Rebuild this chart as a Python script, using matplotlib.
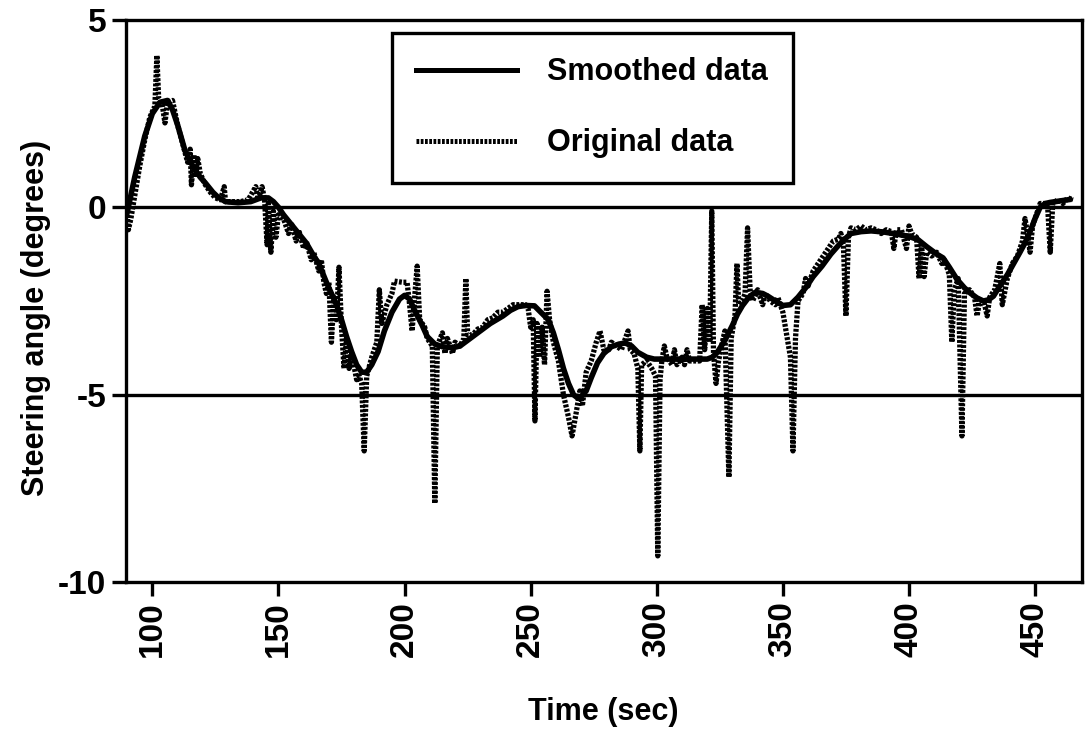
import matplotlib
matplotlib.use("Agg")
import matplotlib.pyplot as plt
from matplotlib.lines import Line2D

plt.rcParams['font.family'] = ['Liberation Sans', 'DejaVu Sans']
plt.rcParams['axes.unicode_minus'] = False

# original (raw) steering angle samples
orig_t = [90, 90.5, 91.5, 93, 95, 97, 99, 101, 101.8, 102.5, 104, 105, 106, 108, 110, 112, 114, 115,
          115.5, 116.5, 117, 118, 119, 121, 123, 125, 127, 128.5, 129, 132, 135, 138, 141, 142, 143.5,
          144.5, 145.5, 146, 147, 148, 149, 150, 152, 154, 155, 157, 158, 160, 161, 163, 164, 166, 167,
          168, 169, 170, 171, 172, 173, 174, 175, 176, 177, 178, 179, 181, 182, 183, 184, 185, 187, 189,
          190, 191, 193, 195, 196, 199, 201, 202, 203, 204, 205, 206, 208, 209, 210, 211, 212, 213, 215,
          216, 217, 219, 220, 222, 223.5, 224.3, 225, 227, 229, 231, 233, 235, 237, 239, 241, 243, 245,
          248, 249, 250, 251, 251.7, 252.5, 253.5, 254.5, 255.5, 256.5, 257.5, 259, 261, 263, 265, 266.4,
          268, 269.5, 270.5, 272, 274, 276, 277.5, 279, 281, 282, 284, 286, 288.6, 289.5, 291, 292.5,
          293.3, 294, 296, 298, 299.5, 300.4, 301.3, 302, 303, 304, 306, 307, 308, 310, 311, 312, 313,
          315, 317, 318, 319, 320, 321, 321.8, 322.5, 323.5, 324.5, 326, 327, 328.6, 329.5, 331, 331.8,
          332.5, 334, 335, 336, 337, 338, 340, 342, 343, 345, 347, 348, 350, 351, 352, 353, 354, 355,
          356, 358, 359, 360, 362, 364, 366, 368, 370, 372, 373, 374, 375, 376, 377, 379, 381, 383, 385,
          387, 389, 391, 393, 394, 395, 397, 399, 400, 401, 403, 404, 405, 406, 407, 409, 411, 413, 414,
          416, 417, 418, 419.5, 421, 422, 424, 426, 427, 428, 430, 431, 432, 434, 436, 437, 439, 441,
          443, 445, 446, 447, 448, 449, 451, 452, 454, 455, 456, 457, 459, 461, 463, 465]
orig_v = [-0.2, -0.6, -0.3, 0.3, 1.1, 1.8, 2.4, 2.7, 4.05, 2.9, 2.7, 2.25, 2.8, 2.85, 2.2, 1.7, 1.2, 1.55,
          0.6, 1.4, 0.8, 1.3, 0.9, 0.6, 0.4, 0.25, 0.2, 0.55, 0.15, 0.15, 0.15, 0.2, 0.55, 0.2, 0.55,
          0.2, -1.0, 0.1, -1.2, -0.1, -0.8, -0.2, -0.3, -0.7, -0.4, -0.9, -0.6, -1.1, -0.9, -1.4, -1.2, -1.7, -1.4,
          -2.0, -2.3, -2.0, -3.6, -2.4, -3.0, -1.6, -3.2, -4.3, -3.5, -4.3, -3.9, -4.6, -4.5, -4.7, -6.5, -4.5, -4.0, -3.6,
          -2.2, -3.1, -2.6, -2.3, -1.97, -2.0, -2.0, -2.6, -3.3, -2.4, -1.57, -3.0, -3.2, -3.5, -3.6, -3.7, -7.9, -3.7, -3.35,
          -3.9, -3.5, -3.9, -3.6, -3.7, -3.5, -1.9, -3.4, -3.4, -3.25, -3.2, -3.0, -2.95, -2.8, -2.8, -2.7, -2.6, -2.6,
          -2.6, -2.7, -3.2, -3.0, -5.7, -3.1, -4.0, -3.2, -4.2, -2.24, -3.0, -3.6, -4.1, -5.0, -5.6, -6.1,
          -5.5, -4.9, -5.3, -4.4, -4.1, -3.6, -3.3, -3.8, -3.8, -3.6, -3.7, -3.8, -3.3, -3.8, -3.9, -4.3,
          -6.5, -4.2, -4.1, -4.3, -4.5, -9.3, -4.6, -4.1, -3.7, -4.0, -4.2, -3.8, -4.2, -4.0, -4.2, -3.8, -4.1,
          -4.1, -4.1, -2.6, -3.8, -2.7, -3.6, -0.1, -3.9, -4.7, -4.1, -3.6, -3.3, -7.2, -3.5, -2.9, -1.5,
          -2.6, -2.5, -2.3, -0.55, -2.2, -2.5, -2.2, -2.6, -2.3, -2.5, -2.6, -2.4, -2.8, -3.2, -3.6, -4.0, -6.5, -3.5,
          -2.5, -2.3, -1.9, -2.1, -1.7, -1.5, -1.3, -1.1, -0.9, -0.85, -0.7, -1.0, -2.9, -0.8, -0.55, -0.6, -0.5, -0.6, -0.55,
          -0.6, -0.7, -0.6, -0.65, -1.1, -0.6, -0.6, -1.1, -0.5, -0.7, -0.8, -1.9, -1.0, -1.85, -1.2, -1.3, -1.2, -1.5, -1.4,
          -1.8, -3.6, -2.2, -1.9, -6.1, -2.3, -2.2, -2.4, -2.9, -2.5, -2.6, -2.9, -2.4, -2.2, -1.5, -2.6, -1.9, -1.5,
          -1.3, -0.9, -0.3, -0.7, -1.2, -0.5, -0.1, 0.1, 0.1, 0.0, -1.2, 0.1, 0.2, 0.1, 0.25, 0.2]

# smoothed curve
smooth_t = [90, 93, 97, 100, 103, 106, 108, 110, 113, 116, 119, 121, 124, 126, 129, 134, 139, 143, 146, 148,
            150, 152, 155, 158, 161, 164, 166, 169, 171, 173, 175, 177, 179, 181, 183, 185, 187, 189.5, 192,
            195, 198, 200, 202, 204, 207, 209, 212, 215, 219, 222, 225, 229, 234, 239, 242, 245, 248, 251.5,
            254, 257, 259, 261, 263, 265, 267, 268.5, 270, 272, 274, 276.5, 279, 282, 285, 287.5, 290, 292.5,
            296, 299, 303, 311, 320, 322, 324, 327, 330, 332, 334, 336.5, 339, 342, 344, 347, 350, 353, 356,
            359, 362, 365.5, 369, 372, 374.5, 377, 381, 385, 390, 395.5, 400, 403.5, 407, 411, 413.5, 416,
            419, 422, 424.5, 427, 429.5, 431.5, 433.5, 436, 439, 441.5, 444, 446, 448, 450, 452, 454, 456,
            460, 464]
smooth_v = [-0.15, 0.8, 1.9, 2.5, 2.8, 2.85, 2.6, 2.2, 1.5, 1.1, 0.8, 0.65, 0.4, 0.27, 0.15, 0.12, 0.15, 0.25,
            0.25, 0.15, 0.0, -0.2, -0.45, -0.7, -0.95, -1.3, -1.5, -2.0, -2.3, -2.6, -3.0, -3.45, -3.85, -4.2,
            -4.4, -4.4, -4.2, -3.85, -3.3, -2.8, -2.45, -2.35, -2.45, -2.75, -3.15, -3.45, -3.65, -3.72, -3.75,
            -3.7, -3.55, -3.35, -3.1, -2.9, -2.75, -2.65, -2.62, -2.63, -2.8, -3.0, -3.35, -3.8, -4.3, -4.7,
            -5.0, -5.08, -5.05, -4.9, -4.55, -4.15, -3.9, -3.72, -3.65, -3.62, -3.7, -3.87, -4.0, -4.05, -4.05,
            -4.05, -4.05, -4.0, -3.87, -3.55, -3.15, -2.85, -2.62, -2.4, -2.27, -2.3, -2.37, -2.5, -2.62, -2.6,
            -2.4, -2.15, -1.85, -1.57, -1.25, -1.02, -0.85, -0.7, -0.65, -0.63, -0.66, -0.72, -0.78, -0.86,
            -1.05, -1.25, -1.35, -1.6, -1.92, -2.15, -2.3, -2.42, -2.5, -2.47, -2.37, -2.1, -1.8, -1.5, -1.2,
            -0.95, -0.65, -0.3, 0.0, 0.1, 0.13, 0.17, 0.21]

x_ticks = [100, 150, 200, 250, 300, 350, 400, 450]
y_ticks = [-10, -5, 0, 5]

fig = plt.figure(figsize=(10.85, 7.35), dpi=100)
ax = fig.add_axes([0.116, 0.208, 0.881, 0.765])

orig_style = (0, (0.55, 0.3))
ax.plot(orig_t, orig_v, color="black", linewidth=3.8, linestyle=orig_style)
ax.plot(smooth_t, smooth_v, color="black", linewidth=4.0, solid_capstyle="round",
        solid_joinstyle="round")

ax.axhline(0, color="black", linewidth=2.4)
ax.axhline(-5, color="black", linewidth=2.4)

ax.set_xlim(89.5, 468.5)
ax.set_ylim(-10, 5)
ax.set_xticks(x_ticks)
ax.set_yticks(y_ticks)
ax.set_xticklabels([str(v) for v in x_ticks], rotation=90)
ax.tick_params(axis="both", direction="out", length=10, width=2.4, labelsize=24, pad=4)
for lab in ax.get_xticklabels() + ax.get_yticklabels():
    lab.set_fontweight("bold")
for s in ax.spines.values():
    s.set_linewidth(2.4)

ax.set_xlabel("Time (sec)", fontsize=22, fontweight="bold")
ax.set_ylabel("Steering angle (degrees)", fontsize=22, fontweight="bold")
ax.xaxis.set_label_coords(0.499, -0.205)
ax.yaxis.set_label_coords(-0.078, 0.47)

handles = [Line2D([], [], color="black", linewidth=3.6),
           Line2D([], [], color="black", linewidth=3.6, linestyle=orig_style)]
leg = ax.legend(handles, ["Smoothed data", "Original data"], loc="upper left",
                bbox_to_anchor=(0.278, 0.977), prop={"size": 22, "weight": "bold"},
                frameon=True, fancybox=False,
                handlelength=3.3, handletextpad=1.0, labelspacing=1.35, borderpad=0.8,
                borderaxespad=0)
leg.get_frame().set_edgecolor("black")
leg.get_frame().set_linewidth(2.4)
leg.get_frame().set_alpha(1)

fig.savefig("out.png", dpi=100)
